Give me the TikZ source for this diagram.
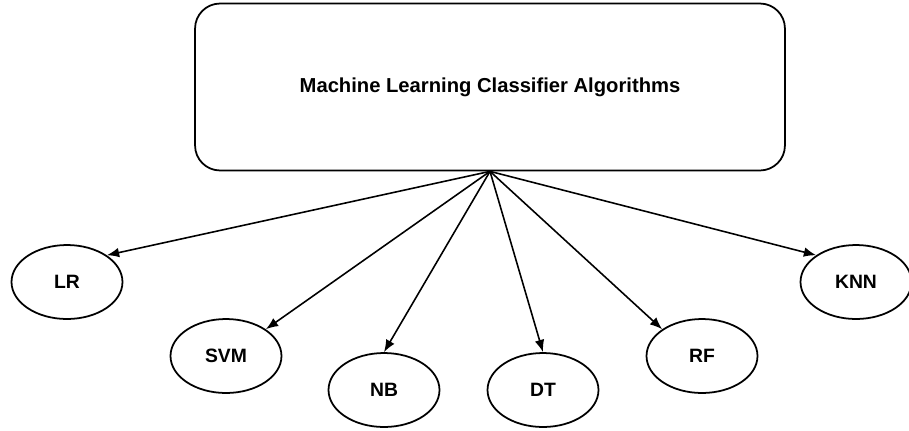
\documentclass[tikz,border=0pt]{standalone}
\usepackage{fontspec}
\setmainfont{Liberation Sans}
\usetikzlibrary{arrows.meta,shapes.geometric}

\tikzset{
  algo/.style={draw,ellipse,line width=1pt,minimum width=2.22cm,minimum height=1.48cm,
    inner sep=0pt,font=\fontsize{11}{13}\selectfont\bfseries},
  mainbox/.style={draw,rounded corners=0.5cm,line width=1pt,minimum width=11.8cm,
    minimum height=3.34cm,font=\fontsize{11.5}{13}\selectfont\bfseries},
  link/.style={line width=0.9pt,-{Latex[length=7pt,width=5.5pt]}}
}

\begin{document}
\begin{tikzpicture}[x=0.02cm,y=-0.02cm]
\useasboundingbox (0,0) rectangle (909,430);

\node[mainbox] (mlc) at (490,87) {Machine Learning Classifier Algorithms};

\node[algo] (lr)  at (67,282)  {LR};
\node[algo] (svm) at (226,356) {SVM};
\node[algo] (nb)  at (384,390) {NB};
\node[algo] (dt)  at (543,390) {DT};
\node[algo] (rf)  at (702,356) {RF};
\node[algo] (knn) at (856,282) {KNN};

\draw[link] (mlc.south) -- (lr.north east);
\draw[link] (mlc.south) -- (svm.north east);
\draw[link] (mlc.south) -- (nb.north);
\draw[link] (mlc.south) -- (dt.north);
\draw[link] (mlc.south) -- (rf.north west);
\draw[link] (mlc.south) -- (knn.north west);

\end{tikzpicture}
\end{document}
